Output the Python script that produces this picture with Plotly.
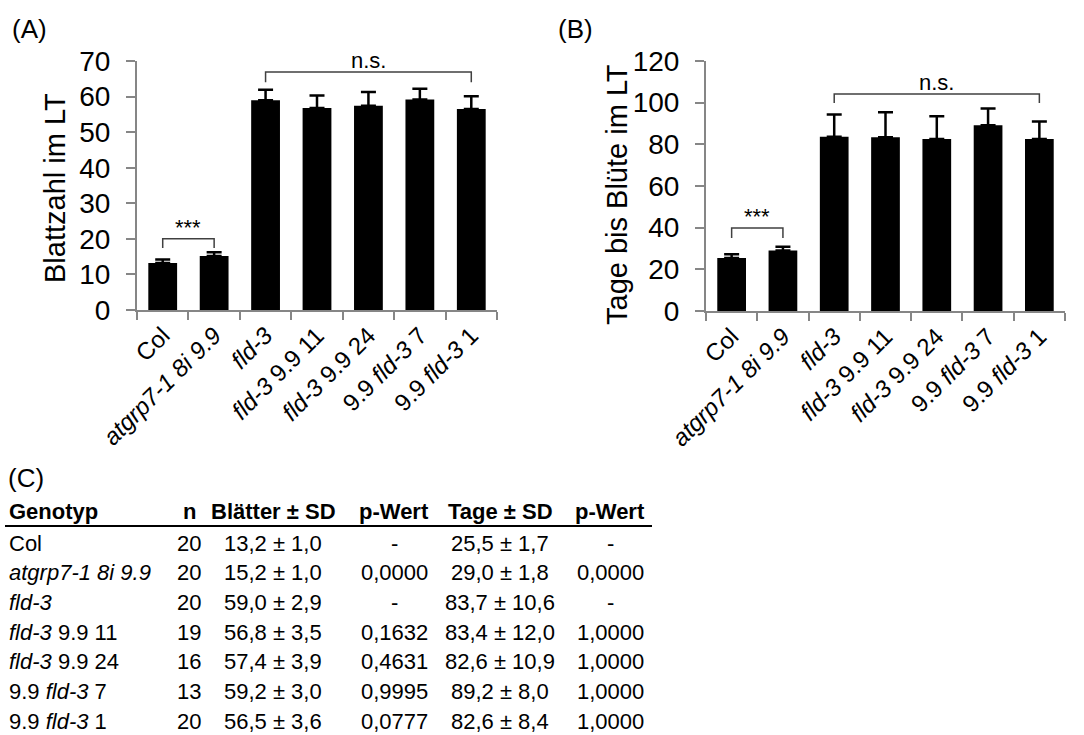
import plotly.graph_objects as go

W, H = 1084, 735

# ---- data ----------------------------------------------------------------
genotypes = [
    "Col",
    "<i>atgrp7-1 8i 9.9</i>",
    "<i>fld-3</i>",
    "<i>fld-3</i> 9.9 11",
    "<i>fld-3</i> 9.9 24",
    "9.9 <i>fld-3</i> 7",
    "9.9 <i>fld-3</i> 1",
]
n_plants = [20, 20, 20, 19, 16, 13, 20]
leaves_mean = [13.2, 15.2, 59.0, 56.8, 57.4, 59.2, 56.5]
leaves_sd = [1.0, 1.0, 2.9, 3.5, 3.9, 3.0, 3.6]
leaves_p = ["-", "0,0000", "-", "0,1632", "0,4631", "0,9995", "0,0777"]
days_mean = [25.5, 29.0, 83.7, 83.4, 82.6, 89.2, 82.6]
days_sd = [1.7, 1.8, 10.6, 12.0, 10.9, 8.0, 8.4]
days_p = ["-", "0,0000", "-", "1,0000", "1,0000", "1,0000", "1,0000"]

leaves_ticks = [0, 10, 20, 30, 40, 50, 60, 70]
days_ticks = [0, 20, 40, 60, 80, 100, 120]

# significance brackets: (first group, last group, bracket top, leg end, label)
leaves_brackets = [(0, 1, 20.0, 17.4, "***"), (2, 6, 66.9, 64.0, "n.s.")]
days_brackets = [(0, 1, 39.8, 35.0, "***"), (2, 6, 104.2, 99.8, "n.s.")]

table_header = ["Genotyp", "n", "Blätter ± SD", "p-Wert", "Tage ± SD", "p-Wert"]


# ---- helpers -------------------------------------------------------------
def px(x):
    return x / W


def py(y):
    return 1 - y / H


def fmt(v):
    return f"{v:.1f}".replace(".", ",")


FONT = "Liberation Sans, Arial, Helvetica, sans-serif"
AXIS_GRAY = "#868686"
BRACKET = "#404040"

fig = go.Figure()

panels = [
    ("x", "y", leaves_mean, leaves_sd, leaves_brackets),
    ("x2", "y2", days_mean, days_sd, days_brackets),
]
for xa, ya, mean, sd, brackets in panels:
    fig.add_trace(go.Bar(
        x=genotypes, y=mean,
        marker=dict(color="black", line=dict(width=0)),
        error_y=dict(type="data", array=sd, arrayminus=[0] * len(sd),
                     symmetric=False, color="black", thickness=2.5, width=7.5),
        xaxis=xa, yaxis=ya, showlegend=False, hoverinfo="skip",
    ))
    for a, b, top, leg, label in brackets:
        fig.add_trace(go.Scatter(
            x=[genotypes[a], genotypes[a], genotypes[b], genotypes[b]],
            y=[leg, top, top, leg],
            mode="lines", line=dict(color=BRACKET, width=1.5),
            xaxis=xa, yaxis=ya, showlegend=False, hoverinfo="skip",
        ))
        fig.add_annotation(
            x=(a + b) / 2, y=top, xref=xa, yref=ya, text=label,
            showarrow=False, xanchor="center", yanchor="bottom", yshift=-3,
            font=dict(family=FONT, size=22, color="black"),
        )

xaxis_common = dict(
    type="category", tickson="boundaries", ticks="outside", ticklen=8,
    tickwidth=2, tickcolor=AXIS_GRAY, showline=True, linecolor=AXIS_GRAY,
    linewidth=2, tickangle=-45, showgrid=False, automargin=False,
    tickfont=dict(family=FONT, size=24, color="black"),
)
yaxis_common = dict(
    ticks="outside", ticklen=9, tickwidth=2, tickcolor=AXIS_GRAY,
    showline=True, linecolor=AXIS_GRAY, linewidth=2, showgrid=False,
    zeroline=False, ticklabelstandoff=10, automargin=False,
    tickfont=dict(family=FONT, size=28, color="black"),
)

fig.update_layout(
    template="none",
    width=W, height=H,
    margin=dict(l=0, r=0, t=0, b=0, pad=0),
    paper_bgcolor="white", plot_bgcolor="white",
    bargap=0.44,
    xaxis=dict(domain=[px(137), px(497)], anchor="y", **xaxis_common),
    yaxis=dict(domain=[py(310), py(61)], anchor="x", range=[0, 70],
               tickvals=leaves_ticks, **yaxis_common),
    xaxis2=dict(domain=[px(706), px(1065)], anchor="y2", **xaxis_common),
    yaxis2=dict(domain=[py(311), py(61)], anchor="x2", range=[0, 120],
                tickvals=days_ticks, **yaxis_common),
)


def paper_text(x, y, text, size, xanchor="center", angle=0):
    fig.add_annotation(x=px(x), y=py(y), xref="paper", yref="paper",
                       text=text, textangle=angle, showarrow=False,
                       xanchor=xanchor, yanchor="middle",
                       font=dict(family=FONT, size=size, color="black"))


# axis titles
paper_text(55, 188, "Blattzahl im LT", 29, angle=-90)
paper_text(617, 195, "Tage bis Blüte im LT", 29, angle=-90)

# panel letters
paper_text(10, 29, "(A)", 26, xanchor="left")
paper_text(556, 29, "(B)", 26, xanchor="left")
paper_text(6, 478, "(C)", 26, xanchor="left")

# ---- table (C) -----------------------------------------------------------
col_x = [7, 189, 273, 394, 500, 610]
header_y = 512
row_y0, row_step = 543, 29.7

for i, h in enumerate(table_header):
    paper_text(col_x[i], header_y, f"<b>{h}</b>", 22,
               xanchor="left" if i == 0 else "center")
fig.add_shape(type="line", xref="paper", yref="paper",
              x0=px(5), x1=px(652), y0=py(526), y1=py(526),
              line=dict(color="black", width=2))

for r, g in enumerate(genotypes):
    cells = [
        g,
        str(n_plants[r]),
        f"{fmt(leaves_mean[r])} ± {fmt(leaves_sd[r])}",
        leaves_p[r],
        f"{fmt(days_mean[r])} ± {fmt(days_sd[r])}",
        days_p[r],
    ]
    y = row_y0 + r * row_step
    for c, txt in enumerate(cells):
        paper_text(col_x[c], y, txt, 22, xanchor="left" if c == 0 else "center")

fig.write_html("out.html")
